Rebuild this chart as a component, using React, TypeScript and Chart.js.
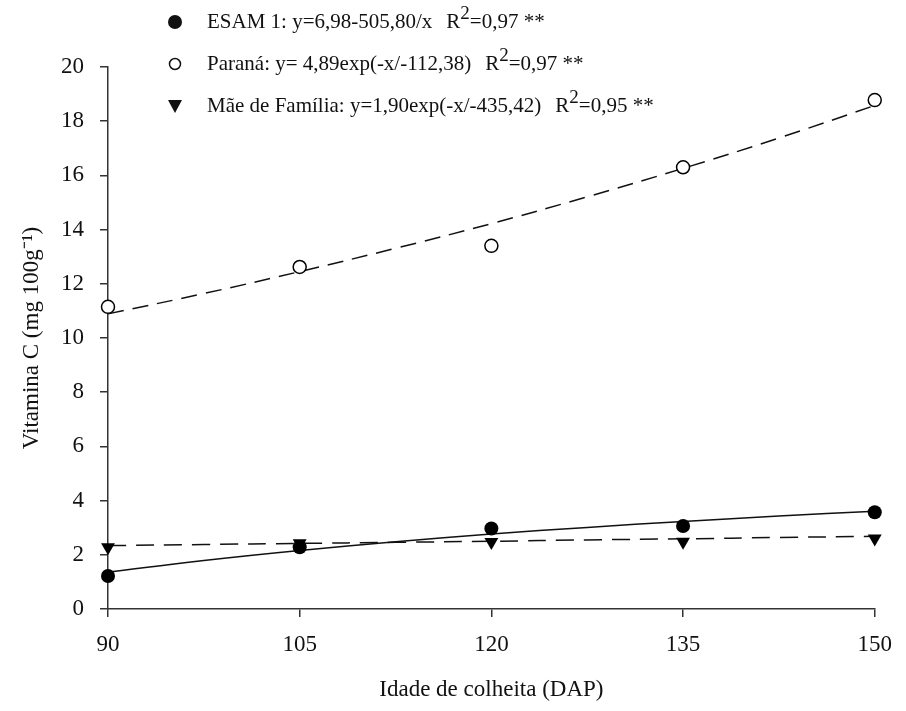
import React, { useEffect, useRef } from "react";
import { Chart, registerables } from "chart.js";

Chart.register(...registerables);

// ---- data ----
const xValues = [90, 105, 120, 135, 150];
const esamValues = [1.22, 2.28, 2.97, 3.06, 3.57];
const paranaValues = [11.15, 12.62, 13.4, 16.3, 18.78];
const maeValues = [2.28, 2.43, 2.47, 2.48, 2.6];

// fitted curves (values of the regression equations shown in the legend)
const fitX = [90, 97.5, 105, 112.5, 120, 127.5, 135, 142.5, 150];
const esamFit = [1.36, 1.79, 2.16, 2.48, 2.77, 3.01, 3.23, 3.43, 3.61];
const paranaFit = [10.89, 11.64, 12.45, 13.31, 14.22, 15.21, 16.26, 17.38, 18.58];
const maeFit = [2.34, 2.38, 2.42, 2.46, 2.5, 2.55, 2.59, 2.64, 2.68];

const xTicks = [90, 105, 120, 135, 150];
const legendLabels = [
  "ESAM 1: y=6,98-505,80/x",
  "Paraná: y= 4,89exp(-x/-112,38)",
  "Mãe de Família: y=1,90exp(-x/-435,42)",
];
const legendR2 = ["=0,97 **", "=0,97 **", "=0,95 **"];
const legendMarkers = ["filled", "open", "triangle"];

const FONT = '"Liberation Serif", "Times New Roman", serif';
const INK = "#111";

const toPts = (xs: number[], ys: number[]) => xs.map((x, i) => ({ x, y: ys[i] }));

const legendPlugin = {
  id: "eqLegend",
  afterDraw(chart: any) {
    const ctx = chart.ctx as CanvasRenderingContext2D;
    ctx.save();
    const markerX = 175;
    const textX = 207;
    const y0 = 22;
    const dy = 42;
    legendLabels.forEach((label, i) => {
      const y = y0 + i * dy;
      // marker
      ctx.lineWidth = 1.5;
      ctx.strokeStyle = INK;
      ctx.fillStyle = INK;
      if (legendMarkers[i] === "filled") {
        ctx.beginPath();
        ctx.arc(markerX, y, 7, 0, Math.PI * 2);
        ctx.fill();
      } else if (legendMarkers[i] === "open") {
        ctx.beginPath();
        ctx.arc(markerX, y, 5.5, 0, Math.PI * 2);
        ctx.fillStyle = "#fff";
        ctx.fill();
        ctx.stroke();
      } else {
        ctx.beginPath();
        ctx.moveTo(markerX - 7, y - 6);
        ctx.lineTo(markerX + 7, y - 6);
        ctx.lineTo(markerX, y + 7);
        ctx.closePath();
        ctx.fill();
      }
      // text
      ctx.fillStyle = INK;
      ctx.textBaseline = "middle";
      ctx.textAlign = "left";
      ctx.font = `21px ${FONT}`;
      ctx.fillText(label, textX, y);
      let x = textX + ctx.measureText(label).width + 14;
      ctx.fillText("R", x, y);
      x += ctx.measureText("R").width;
      ctx.font = `19px ${FONT}`;
      ctx.fillText("2", x, y - 8);
      x += ctx.measureText("2").width;
      ctx.font = `21px ${FONT}`;
      ctx.fillText(legendR2[i], x, y);
    });
    ctx.restore();
  },
};

export default function App() {
  const canvasRef = useRef<HTMLCanvasElement | null>(null);

  useEffect(() => {
    if (!canvasRef.current) return;
    const chart = new Chart(canvasRef.current, {
      type: "scatter",
      data: {
        datasets: [
          {
            label: "ESAM 1",
            data: toPts(xValues, esamValues),
            pointStyle: "circle",
            pointRadius: 7,
            backgroundColor: "#000",
            borderColor: "#000",
            borderWidth: 0,
            showLine: false,
            clip: false,
          },
          {
            label: "Paraná",
            data: toPts(xValues, paranaValues),
            pointStyle: "circle",
            pointRadius: 6.5,
            backgroundColor: "#fff",
            borderColor: "#000",
            borderWidth: 1.5,
            showLine: false,
            clip: false,
          },
          {
            label: "Mãe de Família",
            data: toPts(xValues, maeValues),
            pointStyle: "triangle",
            rotation: 180,
            pointRadius: 8,
            backgroundColor: "#000",
            borderColor: "#000",
            borderWidth: 0,
            showLine: false,
            clip: false,
          },
          {
            label: "ESAM 1 fit",
            data: toPts(fitX, esamFit),
            showLine: true,
            pointRadius: 0,
            borderColor: "#111",
            borderWidth: 1.5,
            tension: 0.4,
            clip: false,
          },
          {
            label: "Paraná fit",
            data: toPts(fitX, paranaFit),
            showLine: true,
            pointRadius: 0,
            borderColor: "#111",
            borderWidth: 1.5,
            borderDash: [16, 9],
            tension: 0.4,
            clip: false,
          },
          {
            label: "Mãe fit",
            data: toPts(fitX, maeFit),
            showLine: true,
            pointRadius: 0,
            borderColor: "#111",
            borderWidth: 1.5,
            borderDash: [18, 10],
            tension: 0.4,
            clip: false,
          },
        ],
      },
      options: {
        animation: false,
        responsive: false,
        devicePixelRatio: 1,
        layout: { padding: { top: 67, right: 22, left: 0, bottom: 0 } },
        plugins: {
          legend: { display: false },
          tooltip: { enabled: false },
          title: { display: false },
        },
        scales: {
          x: {
            type: "linear",
            min: 90,
            max: 150,
            afterFit: (s: any) => {
              s.height = 102;
            },
            afterBuildTicks: (s: any) => {
              s.ticks = xTicks.map((v) => ({ value: v }));
            },
            ticks: {
              font: { family: FONT, size: 23 },
              color: INK,
              padding: 14,
              maxRotation: 0,
            },
            grid: {
              drawOnChartArea: false,
              drawTicks: true,
              tickLength: 8,
              color: "#333",
              lineWidth: 1.5,
            },
            border: { display: true, color: "#333", width: 1.5 },
            title: {
              display: true,
              text: "Idade de colheita (DAP)",
              font: { family: FONT, size: 23 },
              color: INK,
              padding: { top: 0, bottom: 7 },
            },
          },
          y: {
            type: "linear",
            min: 0,
            max: 20,
            afterFit: (s: any) => {
              s.width = 108;
            },
            ticks: {
              stepSize: 2,
              font: { family: FONT, size: 23 },
              color: INK,
              padding: 16,
            },
            grid: {
              drawOnChartArea: false,
              drawTicks: true,
              tickLength: 8,
              color: "#333",
              lineWidth: 1.5,
            },
            border: { display: true, color: "#333", width: 1.5 },
            title: {
              display: true,
              text: "Vitamina C (mg 100g⁻¹)",
              font: { family: FONT, size: 23 },
              color: INK,
              padding: { top: 18, bottom: 0 },
            },
          },
        },
      },
      plugins: [legendPlugin],
    } as any);
    return () => chart.destroy();
  }, []);

  return (
    <div style={{ position: "absolute", left: 0, top: 0, width: 906, height: 711, background: "#fff" }}>
      <canvas ref={canvasRef} width={906} height={711} style={{ width: 906, height: 711, display: "block" }} />
    </div>
  );
}
